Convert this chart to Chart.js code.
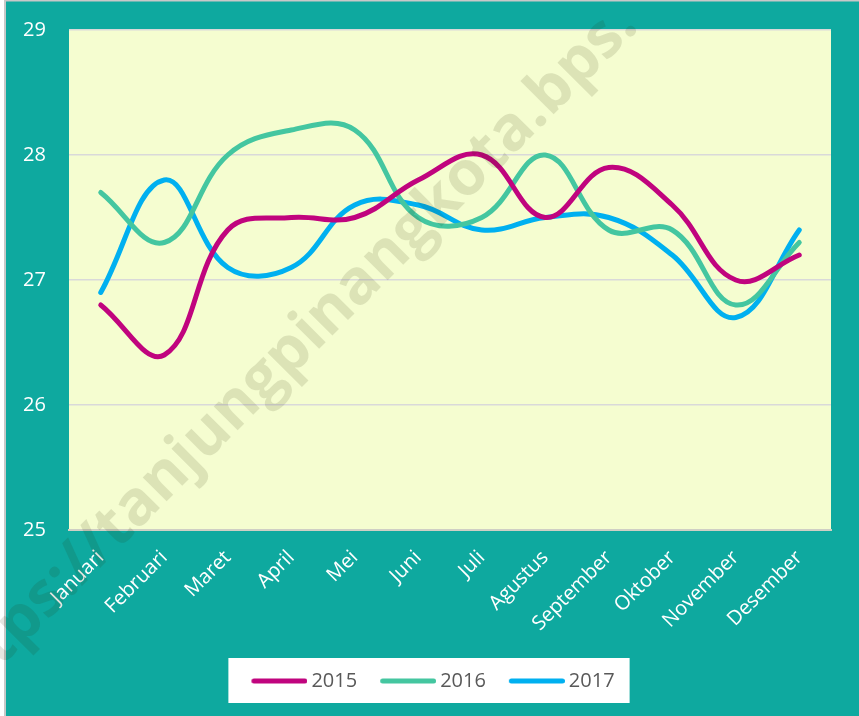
<!DOCTYPE html>
<html><head><meta charset="utf-8">
<script src="https://cdn.jsdelivr.net/npm/chart.js@4"></script>
<style>html,body{margin:0;padding:0;background:#fff;}#c{display:block;}</style>
</head><body>
<canvas id="c" width="859" height="716"></canvas>
<script>
const categories = ['Januari','Februari','Maret','April','Mei','Juni','Juli','Agustus','September','Oktober','November','Desember'];
const seriesNames = ['2015','2016','2017'];
const v2015 = [26.8,26.4,27.4,27.5,27.5,27.8,28.0,27.5,27.9,27.6,27.0,27.2];
const v2016 = [27.7,27.3,28.0,28.2,28.2,27.5,27.5,28.0,27.4,27.4,26.8,27.3];
const v2017 = [26.9,27.8,27.1,27.1,27.6,27.6,27.4,27.5,27.5,27.2,26.7,27.4];
const yTicks = [25,26,27,28,29];
const watermark = 'https://tanjungpinangkota.bps.';

const colors = ['#c0047e','#44c6a0','#00b0f0'];
const FONT = '"Open Sans", "Liberation Sans", sans-serif';

function legendLine(color) {
  const c = document.createElement('canvas');
  c.width = 74; c.height = 10;
  const x = c.getContext('2d');
  x.strokeStyle = color; x.lineWidth = 5; x.lineCap = 'round';
  x.beginPath(); x.moveTo(20.5, 5); x.lineTo(71.5, 5); x.stroke();
  return c;
}

const bgPlugin = {
  id: 'bg',
  beforeDraw(chart) {
    const {ctx, chartArea: a} = chart;
    ctx.save();
    ctx.fillStyle = '#0ea99f';
    ctx.fillRect(0, 0, chart.width, chart.height);
    ctx.fillStyle = '#ffffff';
    ctx.fillRect(0, 0, 5, chart.height);
    ctx.fillStyle = '#c8c8c8';
    ctx.fillRect(4, 0, 2, chart.height);
    ctx.fillRect(4, 0, chart.width, 1.5);
    ctx.fillStyle = '#f5fdd0';
    ctx.fillRect(a.left, a.top, a.right - a.left, a.bottom - a.top);
    const lg = chart.legend;
    if (lg && lg.legendHitBoxes && lg.legendHitBoxes.length) {
      const hb = lg.legendHitBoxes;
      const l = hb[0].left - 11, r = hb[hb.length-1].left + hb[hb.length-1].width + 15;
      ctx.fillStyle = '#ffffff';
      ctx.fillRect(l, 658, r - l, 45);
    }
    ctx.restore();
  },
  afterDraw(chart) {
    const ctx = chart.ctx;
    ctx.save();
    ctx.translate(640, 28);
    ctx.rotate(-45 * Math.PI / 180);
    ctx.font = 'bold 62px ' + FONT;
    ctx.textAlign = 'right';
    ctx.textBaseline = 'alphabetic';
    ctx.fillStyle = 'rgba(40,40,0,0.12)';
    ctx.fillText(watermark, 0, 0);
    ctx.restore();
  }
};

const mk = (label, data, color) => ({
  label, data, borderColor: color, backgroundColor: color,
  borderWidth: 5, tension: 0.4, pointRadius: 0, pointHoverRadius: 0,
  pointStyle: legendLine(color),
  fill: false, borderCapStyle: 'round'
});

new Chart(document.getElementById('c'), {
  type: 'line',
  data: {
    labels: categories,
    datasets: [mk(seriesNames[0], v2015, colors[0]), mk(seriesNames[1], v2016, colors[1]), mk(seriesNames[2], v2017, colors[2])]
  },
  options: {
    responsive: false,
    animation: false,
    events: [],
    layout: {padding: {left: 23, right: 28, top: 30, bottom: 15}},
    plugins: {
      tooltip: {enabled: false},
      legend: {
        position: 'bottom',
        labels: {
          usePointStyle: true, pointStyleWidth: 62,
          padding: 11, color: '#595959', font: {family: FONT, size: 20}
        }
      }
    },
    scales: {
      x: {
        offset: true,
        grid: {display: false, drawTicks: false},
        border: {display: true, color: '#cfcfc4', width: 2},
        ticks: {color: '#ffffff', font: {family: FONT, size: 20}, maxRotation: 45, minRotation: 45, padding: 16, autoSkip: false},
        afterFit(s) { s.height = 130; }
      },
      y: {
        min: 25, max: 29,
        afterBuildTicks(s) { s.ticks = yTicks.map(v => ({value: v})); },
        grid: {color: '#d9d9d9', lineWidth: 1.5, drawTicks: false},
        border: {display: false},
        ticks: {color: '#ffffff', font: {family: FONT, size: 20}, crossAlign: 'far', padding: 0},
        afterFit(s) { s.width = 46; }
      }
    }
  },
  plugins: [bgPlugin]
});
</script>
</body></html>
